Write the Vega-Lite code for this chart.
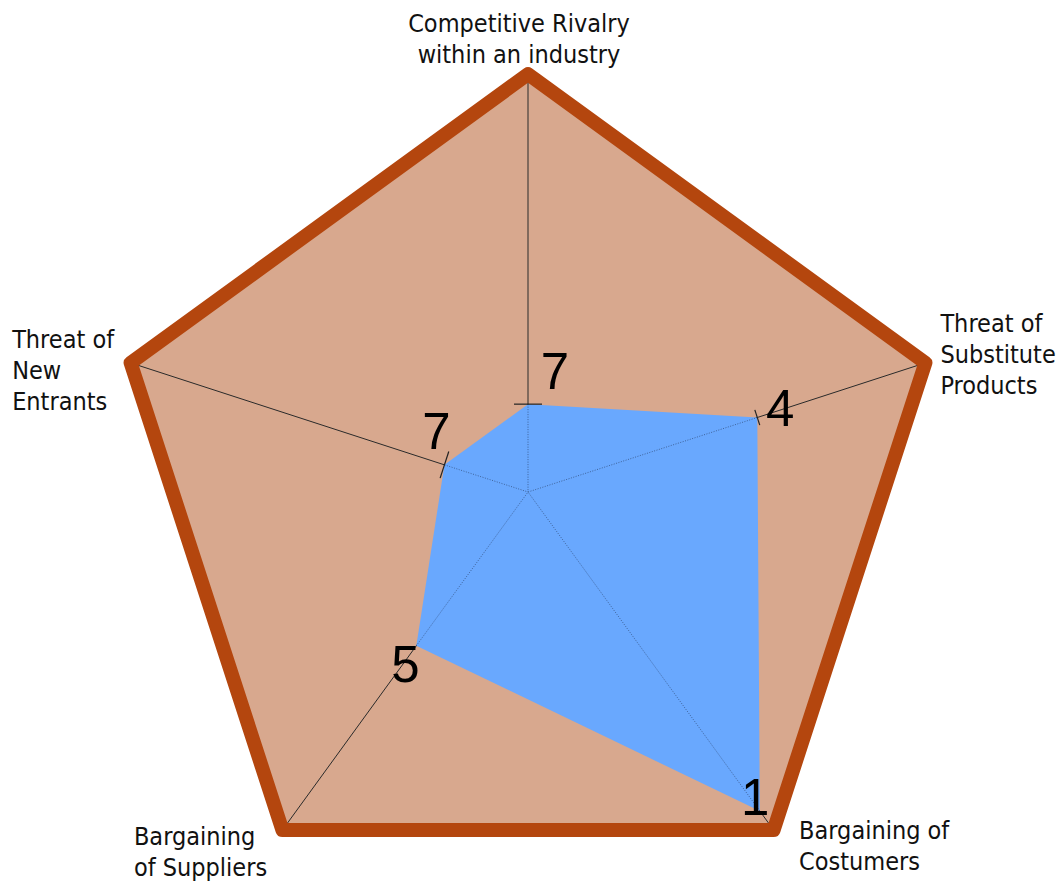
{
  "$schema": "https://vega.github.io/schema/vega-lite/v6.json",
  "width": 1060,
  "height": 882,
  "autosize": {"type": "none"},
  "padding": 0,
  "background": "white",
  "config": {"view": {"stroke": null}},
  "data": {
    "values": [
      {"i": 0, "axis": "Competitive Rivalry within an industry", "label": "Competitive Rivalry\nwithin an industry", "value": 7},
      {"i": 1, "axis": "Threat of Substitute Products", "label": "Threat of\nSubstitute\nProducts", "value": 4},
      {"i": 2, "axis": "Bargaining of Costumers", "label": "Bargaining of\nCostumers", "value": 1},
      {"i": 3, "axis": "Bargaining of Suppliers", "label": "Bargaining\nof Suppliers", "value": 5},
      {"i": 4, "axis": "Threat of New Entrants", "label": "Threat of\nNew\nEntrants", "value": 7}
    ]
  },
  "transform": [
    {"calculate": "datum.i * 72", "as": "deg"},
    {"calculate": "datum.i * 2 * PI / 5", "as": "rad"},
    {"calculate": "8.72 - datum.value", "as": "r"},
    {"calculate": "datum.r * sin(datum.rad)", "as": "px"},
    {"calculate": "datum.r * cos(datum.rad)", "as": "py"},
    {"calculate": "8.18 * sin(datum.rad)", "as": "ox"},
    {"calculate": "8.18 * cos(datum.rad)", "as": "oy"}
  ],
  "layer": [
    {
      "mark": {"type": "line", "interpolate": "linear-closed", "fill": "#D8A88E", "stroke": "#D8A88E", "strokeWidth": 0},
      "encoding": {
        "x": {"field": "ox", "type": "quantitative", "scale": {"domain": [-10.337, 10.415], "nice": false, "zero": false}, "axis": null},
        "y": {"field": "oy", "type": "quantitative", "scale": {"domain": [-7.635, 9.632], "nice": false, "zero": false}, "axis": null},
        "order": {"field": "i", "type": "quantitative"}
      }
    },
    {
      "mark": {"type": "rule", "stroke": "#2a2a2a", "strokeWidth": 1},
      "encoding": {
        "x": {"field": "ox", "type": "quantitative", "scale": {"domain": [-10.337, 10.415], "nice": false, "zero": false}, "axis": null},
        "y": {"field": "oy", "type": "quantitative", "scale": {"domain": [-7.635, 9.632], "nice": false, "zero": false}, "axis": null},
        "x2": {"datum": 0},
        "y2": {"datum": 0}
      }
    },
    {
      "mark": {"type": "line", "interpolate": "linear-closed", "stroke": "#B4460E", "strokeWidth": 14, "strokeJoin": "round"},
      "encoding": {
        "x": {"field": "ox", "type": "quantitative", "scale": {"domain": [-10.337, 10.415], "nice": false, "zero": false}, "axis": null},
        "y": {"field": "oy", "type": "quantitative", "scale": {"domain": [-7.635, 9.632], "nice": false, "zero": false}, "axis": null},
        "order": {"field": "i", "type": "quantitative"}
      }
    },
    {
      "mark": {"type": "line", "interpolate": "linear-closed", "fill": "#69A8FE", "stroke": "#69A8FE", "strokeWidth": 0},
      "encoding": {
        "x": {"field": "px", "type": "quantitative", "scale": {"domain": [-10.337, 10.415], "nice": false, "zero": false}, "axis": null},
        "y": {"field": "py", "type": "quantitative", "scale": {"domain": [-7.635, 9.632], "nice": false, "zero": false}, "axis": null},
        "order": {"field": "i", "type": "quantitative"}
      }
    },
    {
      "mark": {"type": "rule", "stroke": "#1c2a48", "strokeWidth": 1, "strokeDash": [1, 1.5], "opacity": 0.55},
      "encoding": {
        "x": {"field": "px", "type": "quantitative", "scale": {"domain": [-10.337, 10.415], "nice": false, "zero": false}, "axis": null},
        "y": {"field": "py", "type": "quantitative", "scale": {"domain": [-7.635, 9.632], "nice": false, "zero": false}, "axis": null},
        "x2": {"datum": 0},
        "y2": {"datum": 0}
      }
    },
    {
      "transform": [{"filter": "datum.i == 0 || datum.i == 4"}],
      "mark": {"type": "point", "shape": "M-1,0L1,0", "size": 784, "filled": false, "stroke": "#222222", "strokeWidth": 1.2, "opacity": 1},
      "encoding": {
        "x": {"field": "px", "type": "quantitative", "scale": {"domain": [-10.337, 10.415], "nice": false, "zero": false}, "axis": null},
        "y": {"field": "py", "type": "quantitative", "scale": {"domain": [-7.635, 9.632], "nice": false, "zero": false}, "axis": null},
        "angle": {"field": "deg", "type": "quantitative", "scale": null}
      }
    },
    {
      "transform": [{"filter": "datum.i == 1"}],
      "mark": {"type": "point", "shape": "M-1,0L1,0", "size": 256, "filled": false, "stroke": "#222222", "strokeWidth": 1.2, "opacity": 1},
      "encoding": {
        "x": {"field": "px", "type": "quantitative", "scale": {"domain": [-10.337, 10.415], "nice": false, "zero": false}, "axis": null},
        "y": {"field": "py", "type": "quantitative", "scale": {"domain": [-7.635, 9.632], "nice": false, "zero": false}, "axis": null},
        "angle": {"field": "deg", "type": "quantitative", "scale": null}
      }
    },
    {
      "transform": [{"filter": "datum.i == 0"}],
      "mark": {"type": "text", "font": "Liberation Sans", "fontSize": 51, "align": "center", "baseline": "alphabetic", "dx": 27, "dy": -15, "fill": "#000000"},
      "encoding": {
        "x": {"field": "px", "type": "quantitative", "scale": {"domain": [-10.337, 10.415], "nice": false, "zero": false}, "axis": null},
        "y": {"field": "py", "type": "quantitative", "scale": {"domain": [-7.635, 9.632], "nice": false, "zero": false}, "axis": null},
        "text": {"field": "value", "type": "quantitative"}
      }
    },
    {
      "transform": [{"filter": "datum.i == 1"}],
      "mark": {"type": "text", "font": "Liberation Sans", "fontSize": 51, "align": "center", "baseline": "alphabetic", "dx": 23, "dy": 8, "fill": "#000000"},
      "encoding": {
        "x": {"field": "px", "type": "quantitative", "scale": {"domain": [-10.337, 10.415], "nice": false, "zero": false}, "axis": null},
        "y": {"field": "py", "type": "quantitative", "scale": {"domain": [-7.635, 9.632], "nice": false, "zero": false}, "axis": null},
        "text": {"field": "value", "type": "quantitative"}
      }
    },
    {
      "transform": [{"filter": "datum.i == 2"}],
      "mark": {"type": "text", "font": "Liberation Sans", "fontSize": 51, "align": "center", "baseline": "alphabetic", "dx": -4.5, "dy": 4, "fill": "#000000"},
      "encoding": {
        "x": {"field": "px", "type": "quantitative", "scale": {"domain": [-10.337, 10.415], "nice": false, "zero": false}, "axis": null},
        "y": {"field": "py", "type": "quantitative", "scale": {"domain": [-7.635, 9.632], "nice": false, "zero": false}, "axis": null},
        "text": {"field": "value", "type": "quantitative"}
      }
    },
    {
      "transform": [{"filter": "datum.i == 3"}],
      "mark": {"type": "text", "font": "Liberation Sans", "fontSize": 51, "align": "center", "baseline": "alphabetic", "dx": -11, "dy": 36, "fill": "#000000"},
      "encoding": {
        "x": {"field": "px", "type": "quantitative", "scale": {"domain": [-10.337, 10.415], "nice": false, "zero": false}, "axis": null},
        "y": {"field": "py", "type": "quantitative", "scale": {"domain": [-7.635, 9.632], "nice": false, "zero": false}, "axis": null},
        "text": {"field": "value", "type": "quantitative"}
      }
    },
    {
      "transform": [{"filter": "datum.i == 4"}],
      "mark": {"type": "text", "font": "Liberation Sans", "fontSize": 51, "align": "center", "baseline": "alphabetic", "dx": -8, "dy": -16, "fill": "#000000"},
      "encoding": {
        "x": {"field": "px", "type": "quantitative", "scale": {"domain": [-10.337, 10.415], "nice": false, "zero": false}, "axis": null},
        "y": {"field": "py", "type": "quantitative", "scale": {"domain": [-7.635, 9.632], "nice": false, "zero": false}, "axis": null},
        "text": {"field": "value", "type": "quantitative"}
      }
    },
    {
      "transform": [{"filter": "datum.i == 0"}],
      "mark": {"type": "text", "font": "DejaVu Sans Condensed, Liberation Sans", "fontSize": 25, "align": "center", "baseline": "alphabetic", "lineBreak": "\n", "lineHeight": 31, "dx": -9, "dy": -42, "fill": "#111111"},
      "encoding": {
        "x": {"field": "ox", "type": "quantitative", "scale": {"domain": [-10.337, 10.415], "nice": false, "zero": false}, "axis": null},
        "y": {"field": "oy", "type": "quantitative", "scale": {"domain": [-7.635, 9.632], "nice": false, "zero": false}, "axis": null},
        "text": {"field": "label", "type": "nominal"}
      }
    },
    {
      "transform": [{"filter": "datum.i == 1"}],
      "mark": {"type": "text", "font": "DejaVu Sans Condensed, Liberation Sans", "fontSize": 25, "align": "left", "baseline": "alphabetic", "lineBreak": "\n", "lineHeight": 31, "dx": 15, "dy": -31, "fill": "#111111"},
      "encoding": {
        "x": {"field": "ox", "type": "quantitative", "scale": {"domain": [-10.337, 10.415], "nice": false, "zero": false}, "axis": null},
        "y": {"field": "oy", "type": "quantitative", "scale": {"domain": [-7.635, 9.632], "nice": false, "zero": false}, "axis": null},
        "text": {"field": "label", "type": "nominal"}
      }
    },
    {
      "transform": [{"filter": "datum.i == 2"}],
      "mark": {"type": "text", "font": "DejaVu Sans Condensed, Liberation Sans", "fontSize": 25, "align": "left", "baseline": "alphabetic", "lineBreak": "\n", "lineHeight": 31, "dx": 25.5, "dy": 9, "fill": "#111111"},
      "encoding": {
        "x": {"field": "ox", "type": "quantitative", "scale": {"domain": [-10.337, 10.415], "nice": false, "zero": false}, "axis": null},
        "y": {"field": "oy", "type": "quantitative", "scale": {"domain": [-7.635, 9.632], "nice": false, "zero": false}, "axis": null},
        "text": {"field": "label", "type": "nominal"}
      }
    },
    {
      "transform": [{"filter": "datum.i == 3"}],
      "mark": {"type": "text", "font": "DejaVu Sans Condensed, Liberation Sans", "fontSize": 25, "align": "left", "baseline": "alphabetic", "lineBreak": "\n", "lineHeight": 31, "dx": -148.5, "dy": 14.5, "fill": "#111111"},
      "encoding": {
        "x": {"field": "ox", "type": "quantitative", "scale": {"domain": [-10.337, 10.415], "nice": false, "zero": false}, "axis": null},
        "y": {"field": "oy", "type": "quantitative", "scale": {"domain": [-7.635, 9.632], "nice": false, "zero": false}, "axis": null},
        "text": {"field": "label", "type": "nominal"}
      }
    },
    {
      "transform": [{"filter": "datum.i == 4"}],
      "mark": {"type": "text", "font": "DejaVu Sans Condensed, Liberation Sans", "fontSize": 25, "align": "left", "baseline": "alphabetic", "lineBreak": "\n", "lineHeight": 31, "dx": -118.5, "dy": -14.5, "fill": "#111111"},
      "encoding": {
        "x": {"field": "ox", "type": "quantitative", "scale": {"domain": [-10.337, 10.415], "nice": false, "zero": false}, "axis": null},
        "y": {"field": "oy", "type": "quantitative", "scale": {"domain": [-7.635, 9.632], "nice": false, "zero": false}, "axis": null},
        "text": {"field": "label", "type": "nominal"}
      }
    }
  ]
}
